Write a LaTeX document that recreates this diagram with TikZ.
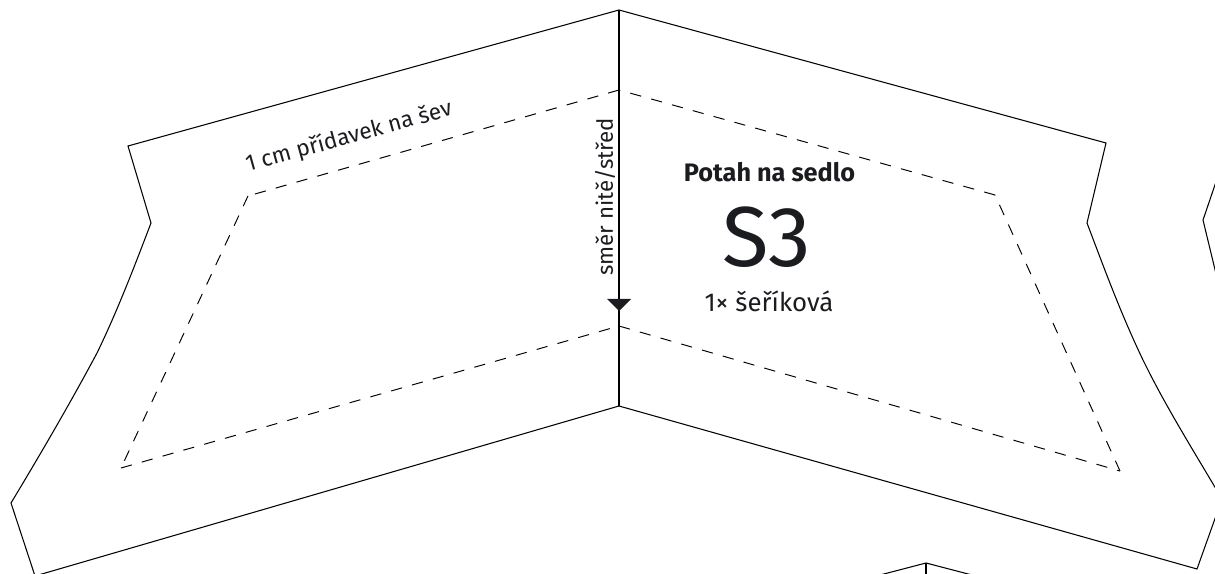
\documentclass[tikz,border=0pt]{standalone}
\usepackage{fontspec}
\setmainfont{Fira Sans}
\usetikzlibrary{positioning}
\definecolor{inkdark}{HTML}{1A1C20}
\tikzset{
  cutline/.style={draw=black,line width=0.6pt,line join=miter},
  seamline/.style={draw=black,line width=0.55pt,dash pattern=on 6.4pt off 5.9pt},
  label/.style={inner sep=0pt,text=inkdark}
}
\begin{document}
\begin{tikzpicture}[x=0.02cm,y=-0.02cm]
        \useasboundingbox (0,0) rectangle (1215,574);
        \clip (0,0) rectangle (1215,574);
        %Outer edge
        \coordinate (Apex) at (619,10);
        \coordinate (TL) at (128,146);
        \coordinate (NL) at (151,223);
        \coordinate (ML) at (97,353);
        \coordinate (CL) at (11,503);
        \coordinate (BL) at (35,576);
        \coordinate (Fold) at (619,406);
        \coordinate (BR) at (1197,569);
        \coordinate (CR) at (1222,499);
        \coordinate (MR) at (1143,360);
        \coordinate (NR) at (1087,223);
        \coordinate (TR) at (1106,143);
        \draw[cutline] (Apex) -- (TL) -- (NL)
            .. controls (135,265) and (117,312) .. (ML)
            .. controls (72,400) and (40,455) .. (CL)
            -- (BL) -- (Fold) -- (BR) -- (CR)
            .. controls (1190,445) and (1165,405) .. (MR)
            .. controls (1120,312) and (1103,265) .. (NR)
            -- (TR) -- cycle;
        \draw[cutline] (Apex) -- (Fold);
        %Seam allowance
        \coordinate (SA) at (619,90);
        \coordinate (SL) at (248,196);
        \coordinate (SBL) at (121,468);
        \coordinate (SF) at (619,326);
        \coordinate (SBR) at (1120,471);
        \coordinate (SR) at (995,195);
        \draw[seamline] (SA) -- (SL);
        \draw[seamline] (SL) -- (SBL);
        \draw[seamline] (SBL) -- (SF);
        \draw[seamline] (SF) -- (SBR);
        \draw[seamline] (SBR) -- (SR);
        \draw[seamline] (SR) -- (SA);
        %Arrow head
        \coordinate (ArrowL) at (607,299);
        \coordinate (ArrowR) at (631,299);
        \coordinate (ArrowT) at (619,311);
        \fill[inkdark] (ArrowL) -- (ArrowR) -- (ArrowT) -- cycle;
        %Neighbour pieces
        \coordinate (NextA) at (926,563);
        \draw[cutline] (NextA) -- (880,575);
        \draw[cutline] (NextA) -- (972,575);
        \draw[cutline] (NextA) -- (926,575);
        \coordinate (SideN) at (1203,220);
        \draw[cutline] (1218,176) -- (SideN) -- (1218,282);
        %Labels
        \node[label,rotate=15.5,font=\fontsize{12.9pt}{15pt}\selectfont] (seam) at (349,137) {1 cm přídavek na šev};
        \node[label,rotate=90,font=\fontsize{12.65pt}{15pt}\selectfont] (grain) at (605,197) {směr nitě/střed};
        \node[label,font=\bfseries\fontsize{14.4pt}{17pt}\selectfont] (title) at (769.5,172) {Potah na sedlo};
        \node[label,font=\fontsize{48.5pt}{52pt}\selectfont] (code) at (767,237) {S3};
        \node[label,font=\fontsize{14.7pt}{17pt}\selectfont] (count) at (769,301) {1× šeříková};
\end{tikzpicture}
\end{document}
